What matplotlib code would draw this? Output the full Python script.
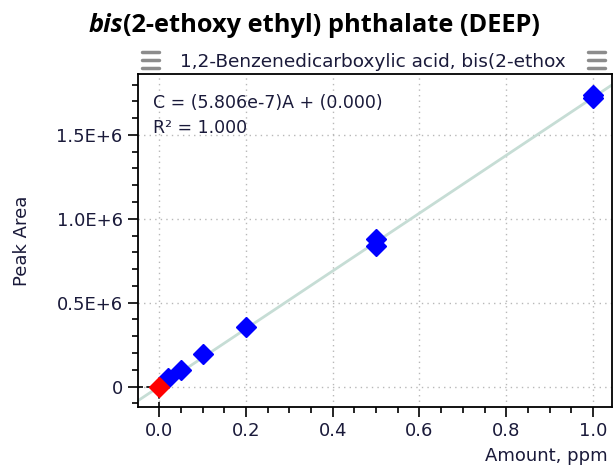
import matplotlib
matplotlib.use("Agg")
import matplotlib.pyplot as plt
from matplotlib.lines import Line2D
from matplotlib.ticker import MultipleLocator, FixedFormatter, FixedLocator

# calibration data
amount = [0.02, 0.05, 0.1, 0.2, 0.5, 0.5, 1.0, 1.0]
peak_area = [0.05e6, 0.10e6, 0.195e6, 0.355e6, 0.835e6, 0.878e6, 1.722e6, 1.735e6]
blank_amount = [0.0]
blank_area = [0.0]
slope = 5.806e-7
intercept = 0.0

y_ticks = [0, 0.5e6, 1.0e6, 1.5e6]
y_ticklabels = ["0", "0.5E+6", "1.0E+6", "1.5E+6"]
x_ticks = [0.0, 0.2, 0.4, 0.6, 0.8, 1.0]
x_ticklabels = ["0.0", "0.2", "0.4", "0.6", "0.8", "1.0"]

title_italic = "bis"
title_rest = "(2-ethoxy ethyl) phthalate (DEEP)"
subtitle = "1,2-Benzenedicarboxylic acid, bis(2-ethox"
equation = "C = (5.806e-7)A + (0.000)"
r2_text = "R\u00b2 = 1.000"

W, H = 616, 465
fig = plt.figure(figsize=(W / 100, H / 100), dpi=100)
ax = fig.add_axes([138 / W, 1 - 407 / H, (612 - 138) / W, (407 - 74) / H])

xlim = (-0.049, 1.044)
ylim = (-0.122e6, 1.863e6)
ax.set_xlim(*xlim)
ax.set_ylim(*ylim)

# grid
for xt in x_ticks:
    ax.axvline(xt, color="#b8b8b8", lw=1, ls=(0, (1, 3)), zorder=0)
for yt in y_ticks:
    ax.axhline(yt, color="#b8b8b8", lw=1, ls=(0, (1, 3)), zorder=0)

# fit line across the axes
fx = list(xlim)
fy = [(x - intercept) / slope for x in fx]
ax.plot(fx, fy, color="#c6ddd5", lw=2, zorder=1)

ax.plot(amount, peak_area, ls="none", marker="D", ms=10, color="#0000ff",
        mec="#0000ff", zorder=3)
ax.plot(blank_amount, blank_area, ls="none", marker="D", ms=10, color="#ff0000",
        mec="#ff0000", zorder=4)

# short dashed zero marks
ax.plot([xlim[0], 0.0], [0, 0], color="black", lw=1.2, ls=(0, (3, 2)), zorder=2)
ax.plot([0, 0], [ylim[0], -0.05e6], color="black", lw=1.2, ls=(0, (3, 2)), zorder=2)

ax.xaxis.set_major_locator(FixedLocator(x_ticks))
ax.xaxis.set_major_formatter(FixedFormatter(x_ticklabels))
ax.yaxis.set_major_locator(FixedLocator(y_ticks))
ax.yaxis.set_major_formatter(FixedFormatter(y_ticklabels))
ax.xaxis.set_minor_locator(MultipleLocator(0.05))
ax.yaxis.set_minor_locator(MultipleLocator(0.1e6))
ax.tick_params(which="major", length=7, width=1.2, labelsize=13, colors="black",
               labelcolor="#1a1a3a", pad=4)
ax.tick_params(which="minor", length=4, width=1.2)
for s in ax.spines.values():
    s.set_linewidth(1.3)

ax.set_ylabel("Peak Area", fontsize=13, color="#1a1a3a", labelpad=18)
fig.text(608 / W, 1 - 447 / H, "Amount, ppm", ha="right", va="top",
         fontsize=13, color="#1a1a3a")

ax.text(153, H - 108, equation, transform=None, fontsize=12.5,
        color="#1a1a3a", va="baseline")
ax.text(153, H - 133, r2_text, transform=None, fontsize=12.5,
        color="#1a1a3a", va="baseline")

# title in two parts (italic "bis")
t1 = fig.text(0, 1 - 32 / H, title_italic, fontsize=18.3, fontweight="bold",
              style="italic", family="Open Sans", va="baseline")
t2 = fig.text(0, 1 - 32 / H, title_rest, fontsize=18.3, fontweight="bold",
              family="Open Sans", va="baseline")
fig.canvas.draw()
r = fig.canvas.get_renderer()
w1 = t1.get_window_extent(r).width
w2 = t2.get_window_extent(r).width
x0 = 314 - (w1 + w2) / 2
t1.set_x(x0 / W)
t2.set_x((x0 + w1) / W)

fig.text(180 / W, 1 - 67 / H, subtitle, fontsize=13.3, color="#1a1a3a",
         va="baseline")

# menu icons
for xa, xb in [(142, 159), (588, 605)]:
    for yy in (52, 60, 68):
        fig.add_artist(Line2D([xa / W, xb / W], [1 - yy / H, 1 - yy / H],
                              color="#8c8c8c", lw=2.5, solid_capstyle="round"))

fig.savefig("out.png", dpi=100)
